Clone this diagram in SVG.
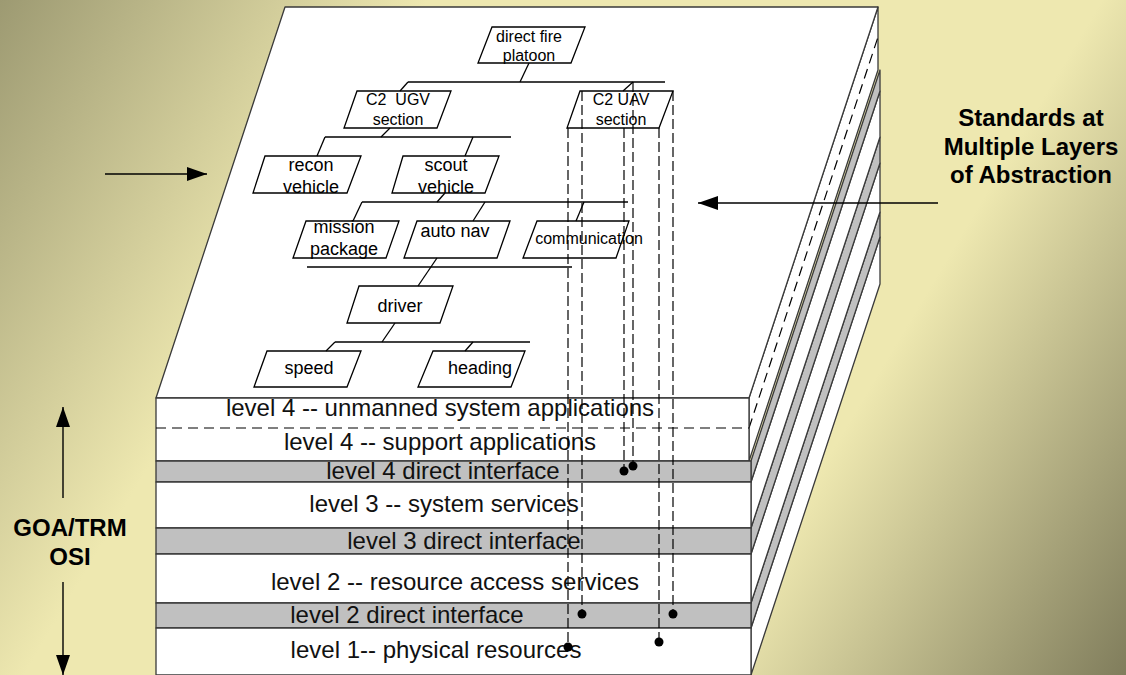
<svg xmlns="http://www.w3.org/2000/svg" width="1126" height="675" viewBox="0 0 1126 675">
  <defs>
    <linearGradient id="bg" gradientUnits="userSpaceOnUse" x1="0" y1="0" x2="1126" y2="675">
      <stop offset="0" stop-color="#9d9a72"/>
      <stop offset="0.28" stop-color="#eee8b0"/>
      <stop offset="0.72" stop-color="#eee8b0"/>
      <stop offset="1" stop-color="#807d5c"/>
    </linearGradient>
    <marker id="head" markerUnits="userSpaceOnUse" markerWidth="20" markerHeight="14" refX="20" refY="7" orient="auto">
      <path d="M0,0 L20,7 L0,14 Z" fill="#000"/>
    </marker>
    <style>
      .face { fill: #fff; stroke: #3a3a3a; stroke-width: 1.3; stroke-linejoin: round; }
      .gray { fill: #c0c0c0; stroke: #3a3a3a; stroke-width: 1.3; stroke-linejoin: round; }
      .dash-edge { fill: none; stroke: #000; stroke-width: 1.2; stroke-dasharray: 10 6; }
      .box { fill: none; stroke: #000; stroke-width: 1.3; stroke-linejoin: miter; }
      .wire { fill: none; stroke: #000; stroke-width: 1.3; }
      .drop { fill: none; stroke: #000; stroke-width: 1.2; stroke-dasharray: 10 4; }
      .dot { fill: #000; }
      .arrow { fill: none; stroke: #000; stroke-width: 1.4; marker-end: url(#head); }
      .t { font-family: "Liberation Sans", Arial, sans-serif; font-size: 18px; fill: #000; text-anchor: middle; }
      .ts { font-size: 16px; }
      .lv { font-family: "Liberation Sans", Arial, sans-serif; font-size: 24px; fill: #111; text-anchor: middle; }
      .lbl { font-family: "Liberation Sans", Arial, sans-serif; font-size: 24px; font-weight: bold; fill: #000; text-anchor: middle; }
    </style>
  </defs>

  <!-- backdrop -->
  <rect x="0" y="0" width="1126" height="675" fill="url(#bg)"/>

  <!-- layer stack: side faces (oblique depth 129,-391) -->
  <g id="stack-sides">
    <polygon class="face" points="751,628 880,237 880,284 751,675"/>
    <polygon class="gray" points="751,603 880,212 880,237 751,628"/>
    <polygon class="face" points="751,554 880,163 880,212 751,603"/>
    <polygon class="gray" points="751,528 880,137 880,163 751,554"/>
    <polygon class="face" points="751,482 880,91 880,137 751,528"/>
    <polygon class="gray" points="751,461 880,70 880,91 751,482"/>
    <polygon class="face" points="749,398 878,7 878,70 749,461"/>
    <line class="dash-edge" x1="749" y1="428" x2="878" y2="37"/>
  </g>

  <!-- top face carrying the component tree -->
  <g id="top-face">
    <polygon class="face" points="156,398 285,7 878,7 749,398"/>
  </g>

  <!-- front faces of the layers -->
  <g id="layer-4-applications">
    <rect class="face" x="156" y="398" width="593" height="63"/>
    <line class="dash-edge" x1="156" y1="428" x2="749" y2="428"/>
    <text class="lv" x="440" y="416">level 4 -- unmanned system applications</text>
    <text class="lv" x="440" y="450">level 4 -- support applications</text>
  </g>
  <g id="layer-4-interface">
    <rect class="gray" x="156" y="461" width="595" height="21"/>
    <text class="lv" x="443" y="479">level 4 direct interface</text>
  </g>
  <g id="layer-3-services">
    <rect class="face" x="156" y="482" width="595" height="46"/>
    <text class="lv" x="444" y="512">level 3 -- system services</text>
  </g>
  <g id="layer-3-interface">
    <rect class="gray" x="156" y="528" width="595" height="26"/>
    <text class="lv" x="464" y="549">level 3 direct interface</text>
  </g>
  <g id="layer-2-services">
    <rect class="face" x="156" y="554" width="595" height="49"/>
    <text class="lv" x="455" y="590">level 2 -- resource access services</text>
  </g>
  <g id="layer-2-interface">
    <rect class="gray" x="156" y="603" width="595" height="25"/>
    <text class="lv" x="407" y="623">level 2 direct interface</text>
  </g>
  <g id="layer-1-physical">
    <rect class="face" x="156" y="628" width="595" height="47"/>
    <text class="lv" x="436" y="658">level 1-- physical resources</text>
  </g>

  <!-- component tree nodes -->
  <g id="node-direct-fire-platoon">
    <polygon class="box" points="492,27 585,27 571,63 478,63"/>
    <text class="t ts" x="529" y="42">direct fire</text>
    <text class="t ts" x="529" y="61">platoon</text>
  </g>
  <g id="node-c2-ugv">
    <polygon class="box" points="357,91 451,91 437,128 344,128"/>
    <text class="t ts" x="398" y="105" style="white-space:pre">C2  UGV</text>
    <text class="t ts" x="398" y="125">section</text>
  </g>
  <g id="node-c2-uav">
    <polygon class="box" points="580,91 673,91 659,128 567,128"/>
    <text class="t ts" x="621" y="105">C2 UAV</text>
    <text class="t ts" x="621" y="125">section</text>
  </g>
  <g id="node-recon-vehicle">
    <polygon class="box" points="265,156 361,156 347,193 253,193"/>
    <text class="t" x="311" y="171">recon</text>
    <text class="t" x="311" y="193">vehicle</text>
  </g>
  <g id="node-scout-vehicle">
    <polygon class="box" points="403,156 499,156 485,193 392,193"/>
    <text class="t" x="446" y="171">scout</text>
    <text class="t" x="446" y="193">vehicle</text>
  </g>
  <g id="node-mission-package">
    <polygon class="box" points="306,221 399,221 386,258 293,258"/>
    <text class="t" x="344" y="233">mission</text>
    <text class="t" x="344" y="255">package</text>
  </g>
  <g id="node-auto-nav">
    <polygon class="box" points="417,221 510,221 497,258 404,258"/>
    <text class="t" x="455" y="237">auto nav</text>
  </g>
  <g id="node-communication">
    <polygon class="box" points="537,221 629,221 616,258 523,258"/>
    <text class="t ts" x="589" y="244">communication</text>
  </g>
  <g id="node-driver">
    <polygon class="box" points="359,286 453,286 440,323 347,323"/>
    <text class="t" x="400" y="312">driver</text>
  </g>
  <g id="node-speed">
    <polygon class="box" points="267,351 361,351 347,387 254,387"/>
    <text class="t" x="309" y="374">speed</text>
  </g>
  <g id="node-heading">
    <polygon class="box" points="433,351 525,351 511,387 418,387"/>
    <text class="t" x="480" y="374">heading</text>
  </g>

  <!-- connectors -->
  <g id="connectors">
    <!-- platoon fan-out -->
    <polyline class="wire" points="529,63 520,82"/>
    <line class="wire" x1="408" y1="82" x2="665" y2="82"/>
    <polyline class="wire" points="408,82 400,91"/>
    <polyline class="wire" points="633,82 623,91"/>
    <!-- UGV section fan-out -->
    <polyline class="wire" points="390,128 381,137"/>
    <line class="wire" x1="325" y1="137" x2="511" y2="137"/>
    <polyline class="wire" points="325,137 317,156"/>
    <polyline class="wire" points="473,137 465,156"/>
    <!-- scout vehicle fan-out -->
    <polyline class="wire" points="445,193 437,202"/>
    <line class="wire" x1="362" y1="202" x2="628" y2="202"/>
    <polyline class="wire" points="362,202 353,221"/>
    <polyline class="wire" points="485,202 473,221"/>
    <polyline class="wire" points="584,202 576,221"/>
    <!-- auto nav to driver -->
    <line class="wire" x1="307" y1="267" x2="572" y2="267"/>
    <polyline class="wire" points="437,258 418,286"/>
    <!-- driver fan-out -->
    <polyline class="wire" points="395,323 382,342"/>
    <line class="wire" x1="335" y1="342" x2="530" y2="342"/>
    <polyline class="wire" points="335,342 326,351"/>
    <polyline class="wire" points="473,342 465,351"/>

    <!-- UAV section drops into the layer stack -->
    <line class="drop" x1="568" y1="128" x2="568" y2="647"/>
    <line class="drop" x1="582" y1="91" x2="582" y2="614"/>
    <line class="drop" x1="624" y1="128" x2="624" y2="471"/>
    <line class="drop" x1="633" y1="82" x2="633" y2="466"/>
    <line class="drop" x1="659" y1="128" x2="659" y2="642"/>
    <line class="drop" x1="673" y1="91" x2="673" y2="614"/>
    <circle class="dot" cx="568" cy="647" r="4.5"/>
    <circle class="dot" cx="582" cy="614" r="4.5"/>
    <circle class="dot" cx="624" cy="471" r="4.5"/>
    <circle class="dot" cx="633" cy="466" r="4.5"/>
    <circle class="dot" cx="659" cy="642" r="4.5"/>
    <circle class="dot" cx="673" cy="614" r="4.5"/>

    <!-- pointer arrows -->
    <line class="arrow" x1="105" y1="174" x2="207" y2="174"/>
    <line class="arrow" x1="938" y1="203" x2="698" y2="203"/>
    <line class="arrow" x1="63" y1="498" x2="63" y2="407"/>
    <line class="arrow" x1="63" y1="582" x2="63" y2="675"/>
  </g>

  <!-- annotations -->
  <g id="label-goa">
    <text class="lbl" x="70" y="536">GOA/TRM</text>
    <text class="lbl" x="70" y="565">OSI</text>
  </g>
  <g id="label-standards">
    <text class="lbl" x="1031" y="126">Standards at</text>
    <text class="lbl" x="1031" y="155">Multiple Layers</text>
    <text class="lbl" x="1031" y="183">of Abstraction</text>
  </g>
</svg>
